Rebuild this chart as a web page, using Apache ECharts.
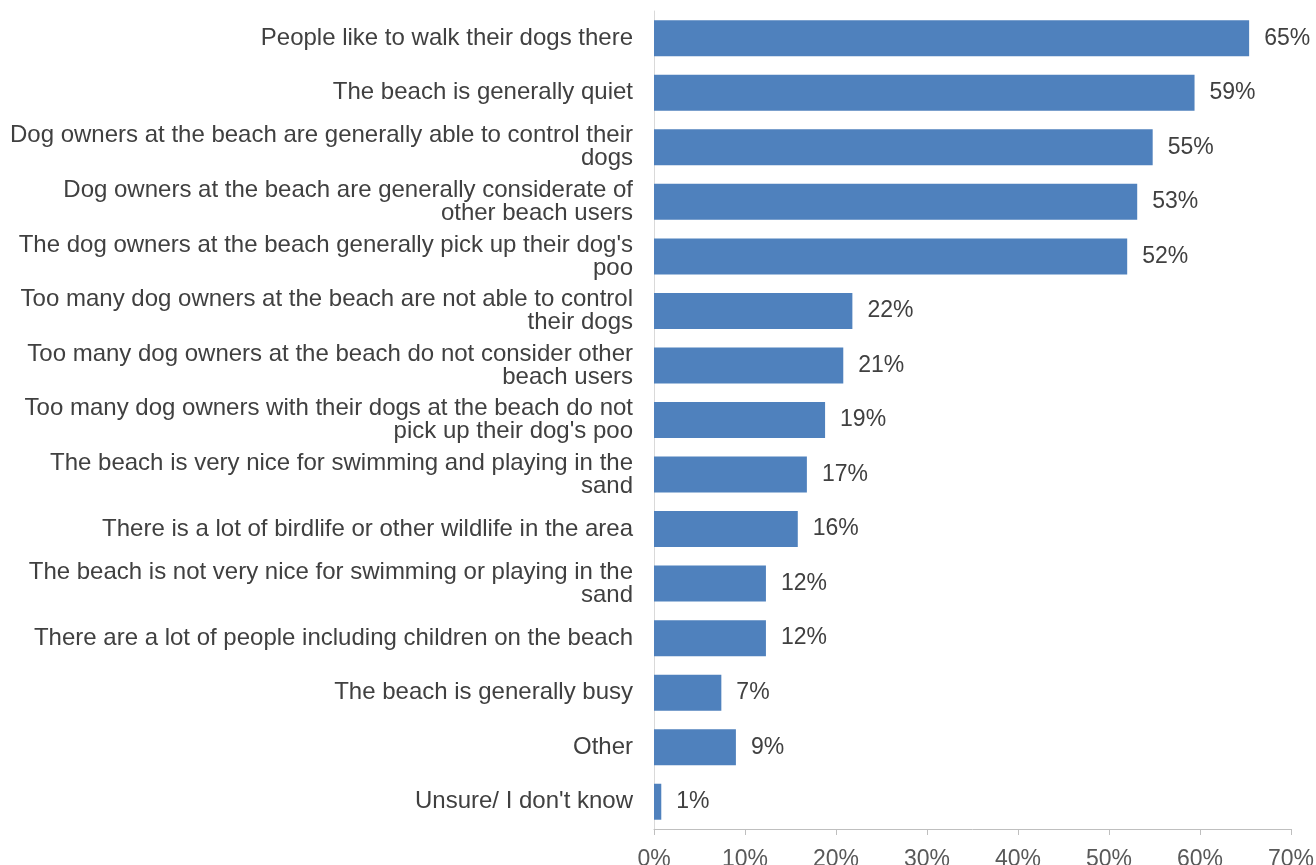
<!DOCTYPE html>
<html>
<head>
<meta charset="utf-8">
<script src="https://cdn.jsdelivr.net/npm/echarts@6/dist/echarts.min.js"></script>
<style>
html,body{margin:0;padding:0;background:#fff;}
#chart{width:1316px;height:865px;}
</style>
</head>
<body>
<div id="chart"></div>
<script>
const categories = [
  "People like to walk their dogs there",
  "The beach is generally quiet",
  "Dog owners at the beach are generally able to control their\ndogs",
  "Dog owners at the beach are generally considerate of\nother beach users",
  "The dog owners at the beach generally pick up their dog's\npoo",
  "Too many dog owners at the beach are not able to control\ntheir dogs",
  "Too many dog owners at the beach do not consider other\nbeach users",
  "Too many dog owners with their dogs at the beach do not\npick up their dog's poo",
  "The beach is very nice for swimming and playing in the\nsand",
  "There is a lot of birdlife or other wildlife in the area",
  "The beach is not very nice for swimming or playing in the\nsand",
  "There are a lot of people including children on the beach",
  "The beach is generally busy",
  "Other",
  "Unsure/ I don't know"
];
const values = [65.4, 59.4, 54.8, 53.1, 52.0, 21.8, 20.8, 18.8, 16.8, 15.8, 12.3, 12.3, 7.4, 9.0, 0.8];
const xTicks = [0, 10, 20, 30, 40, 50, 60, 70];

const chart = echarts.init(document.getElementById('chart'), null, {renderer: 'canvas'});
chart.setOption({
  animation: false,
  textStyle: {fontFamily: 'Liberation Sans, Arial, sans-serif'},
  grid: {left: 654, right: 25, top: 11, bottom: 36, containLabel: false, outerBoundsMode: 'none'},
  xAxis: {
    type: 'value',
    min: xTicks[0],
    max: xTicks[xTicks.length - 1],
    interval: 10,
    splitLine: {show: false},
    axisLine: {show: true, lineStyle: {color: '#BFBFBF', width: 1}},
    axisTick: {show: true, length: 6, lineStyle: {color: '#BFBFBF'}},
    axisLabel: {
      color: '#595959', fontSize: 23, margin: 19,
      fontFamily: 'Liberation Sans, Arial, sans-serif',
      formatter: v => v + '%'
    }
  },
  yAxis: {
    type: 'category',
    data: categories,
    inverse: true,
    axisLine: {show: true, lineStyle: {color: '#D9D9D9', width: 1}},
    axisTick: {show: false},
    axisLabel: {
      color: '#404040', fontSize: 24, lineHeight: 23, margin: 21,
      fontFamily: 'Liberation Sans, Arial, sans-serif',
      align: 'right'
    }
  },
  series: [{
    type: 'bar',
    data: values,
    barCategoryGap: '34%',
    itemStyle: {color: '#4F81BD'},
    label: {
      show: true, position: 'right', distance: 15,
      color: '#404040', fontSize: 23,
      fontFamily: 'Liberation Sans, Arial, sans-serif',
      formatter: p => Math.round(p.value) + '%'
    }
  }]
});
</script>
</body>
</html>
